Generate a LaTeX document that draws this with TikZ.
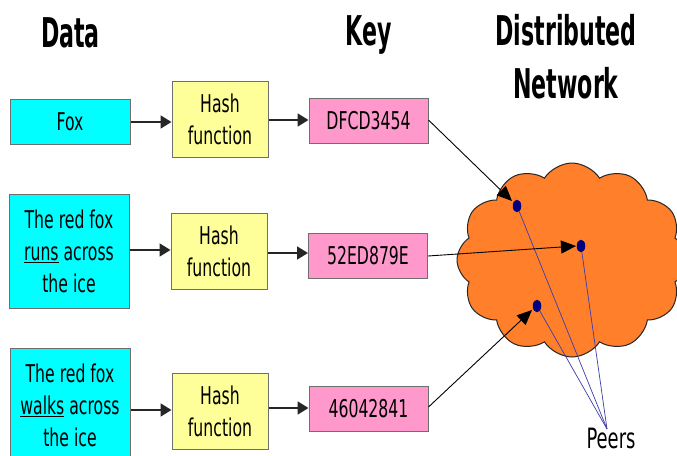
\documentclass[tikz,border=0pt]{standalone}
\usepackage{fontspec}
\usetikzlibrary{arrows.meta,shapes.symbols,shapes.geometric}
\newfontfamily\rf[FakeStretch=0.64]{DejaVu Sans}
\newfontfamily\hf[FakeStretch=0.54]{DejaVu Sans}
\definecolor{cyanbox}{RGB}{0,255,255}
\definecolor{yellowbox}{RGB}{255,255,153}
\definecolor{pinkbox}{RGB}{255,153,204}
\definecolor{cloudorange}{RGB}{255,127,42}
\definecolor{bordergray}{RGB}{110,110,110}
\definecolor{peerblue}{RGB}{0,0,128}
\definecolor{peerline}{RGB}{60,60,170}
\begin{document}
\begin{tikzpicture}[x=1pt,y=-1pt,
  box/.style={draw=bordergray,line width=1pt,inner sep=0pt,align=center,
    font=\rf\fontsize{24.5}{32}\selectfont},
  databox/.style={box,fill=cyanbox,minimum width=120pt},
  hashbox/.style={box,fill=yellowbox,minimum width=96pt,minimum height=76pt},
  keybox/.style={box,fill=pinkbox,minimum width=119pt,minimum height=45pt},
  harrow/.style={draw=black!85,line width=1.8pt,-{Triangle[length=11pt,width=13pt]}},
  karrow/.style={draw=black,line width=0.9pt,-{Triangle[length=15pt,width=13pt]}},
  peer/.style={ellipse,fill=peerblue,draw=peerblue,line width=0.5pt,minimum width=8pt,minimum height=12pt,inner sep=0pt},
  pline/.style={draw=peerline,line width=0.7pt},
  header/.style={font=\hf\bfseries\fontsize{41}{53}\selectfont,align=center,inner sep=0pt}]
\useasboundingbox (0,0) rectangle (677,455);
\fill[white] (0,0) rectangle (677,455);
\begin{scope}
\clip (0,0) rectangle (677,455);
% headers
\node[header,anchor=base] (hdata) at (70.5,47) {Data};
\node[header,anchor=base] (hkey) at (368.5,45) {Key};
\node[header,anchor=base] (hnet) at (566,98) {Distributed\\Network};
% cloud
\node[cloud,cloud puffs=12,cloud puff arc=115,aspect=1.15,draw=black!85,line width=1pt,
  fill=cloudorange,minimum width=230pt,minimum height=194pt,inner sep=0pt] (cloud) at (572,260) {};
% data boxes
\node[databox,minimum height=45pt] (d1) at (70,121.5) {Fox};
\node[databox,minimum height=114pt] (d2) at (69,251) {The red fox\\\underline{runs} across\\the ice};
\node[databox,minimum height=114pt] (d3) at (70,405) {The red fox\\\underline{walks} across\\the ice};
% hash boxes
\node[hashbox] (h1) at (220,119) {Hash\\function};
\node[hashbox] (h2) at (219,251.5) {Hash\\function};
\node[hashbox] (h3) at (220,411) {Hash\\function};
% key boxes
\node[keybox] (k1) at (368.5,121) {DFCD3454};
\node[keybox] (k2) at (368,255.5) {52ED879E};
\node[keybox] (k3) at (368.5,408.5) {46042841};
% horizontal arrows
\draw[harrow] (d1.east |- 0,122) -- (h1.west |- 0,122);
\draw[harrow] (h1.east |- 0,120) -- (k1.west |- 0,120);
\draw[harrow] (d2.east |- 0,250) -- (h2.west |- 0,250);
\draw[harrow] (h2.east |- 0,253) -- (k2.west |- 0,253);
\draw[harrow] (d3.east |- 0,410) -- (h3.west |- 0,410);
\draw[harrow] (h3.east |- 0,408) -- (k3.west |- 0,408);
% peers
\node[peer] (p1) at (517,206) {};
\node[peer] (p2) at (581,246) {};
\node[peer] (p3) at (537,306) {};
\coordinate (pc) at (607,429);
\node[font=\rf\fontsize{28}{32}\selectfont,anchor=base,inner sep=0pt] (peers) at (611,448) {Peers};
\draw[pline] (p1) -- (pc);
\draw[pline] (p2) -- (pc);
\draw[pline] (p3) -- (pc);
% key arrows
\coordinate (t1) at (512,201);
\coordinate (t2) at (576,246);
\coordinate (t3) at (532,310);
\draw[karrow] (k1.east |- 0,120) -- (t1);
\draw[karrow] (k2.east |- 0,256) -- (t2);
\draw[karrow] (k3.east |- 0,407) -- (t3);
\end{scope}
\end{tikzpicture}
\end{document}
